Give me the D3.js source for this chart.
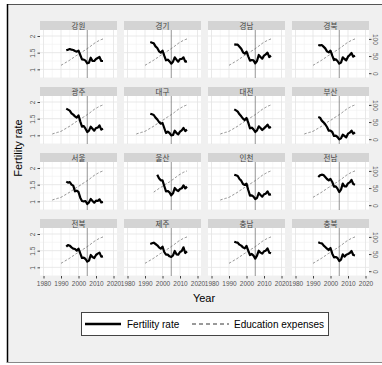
<!DOCTYPE html>
<html>
<head>
<meta charset="utf-8">
<script src="https://cdnjs.cloudflare.com/ajax/libs/d3/7.8.5/d3.min.js"></script>
<style>
  body { margin: 0; background: #fff; }
  text { font-family: "Liberation Sans", Arial, sans-serif; }
</style>
</head>
<body>
<script>
// regions in facet order (4 x 4)
var regions = ["강원", "경기", "경남", "경북",
               "광주", "대구", "대전", "부산",
               "서울", "울산", "인천", "전남",
               "전북", "제주", "충남", "충북"];

// fertility rate, 1993-2014 (울산 from 1997)
var fertStart = { "울산": 1997 };
var fertility = {
  "강원": [1.57,1.59,1.61,1.59,1.58,1.55,1.53,1.56,1.43,1.30,1.29,1.26,1.18,1.20,1.35,1.25,1.25,1.31,1.34,1.37,1.25,1.25],
  "경기": [1.82,1.80,1.78,1.69,1.64,1.54,1.50,1.56,1.41,1.27,1.29,1.24,1.17,1.23,1.36,1.29,1.23,1.31,1.31,1.36,1.23,1.24],
  "경남": [1.75,1.74,1.74,1.68,1.62,1.51,1.47,1.53,1.39,1.26,1.28,1.27,1.18,1.25,1.43,1.37,1.32,1.41,1.45,1.50,1.37,1.41],
  "경북": [1.73,1.72,1.73,1.68,1.63,1.54,1.51,1.56,1.41,1.28,1.30,1.25,1.17,1.20,1.36,1.31,1.27,1.38,1.43,1.49,1.38,1.41],
  "광주": [1.80,1.77,1.74,1.66,1.62,1.57,1.53,1.60,1.42,1.26,1.28,1.20,1.10,1.14,1.26,1.20,1.14,1.22,1.23,1.30,1.17,1.20],
  "대구": [1.65,1.63,1.61,1.53,1.48,1.40,1.35,1.37,1.22,1.07,1.11,1.07,1.00,1.01,1.14,1.07,1.03,1.11,1.15,1.22,1.13,1.17],
  "대전": [1.78,1.75,1.71,1.63,1.57,1.50,1.46,1.52,1.38,1.21,1.23,1.18,1.10,1.15,1.27,1.22,1.16,1.21,1.26,1.32,1.23,1.25],
  "부산": [1.55,1.53,1.44,1.39,1.33,1.25,1.14,1.14,1.10,0.98,0.99,0.95,0.88,0.91,1.02,0.98,0.94,1.05,1.08,1.14,1.05,1.09],
  "서울": [1.59,1.56,1.58,1.50,1.47,1.30,1.32,1.28,1.11,1.01,1.00,1.01,0.92,0.97,1.07,1.01,0.96,1.02,1.01,1.06,0.97,0.98],
  "울산": [1.80,1.69,1.63,1.63,1.46,1.30,1.31,1.27,1.18,1.24,1.40,1.34,1.31,1.37,1.39,1.48,1.39,1.44],
  "인천": [1.80,1.78,1.76,1.67,1.62,1.52,1.49,1.53,1.34,1.17,1.18,1.14,1.07,1.10,1.25,1.19,1.14,1.21,1.23,1.30,1.20,1.21],
  "전남": [1.73,1.78,1.80,1.79,1.73,1.67,1.63,1.67,1.58,1.44,1.45,1.38,1.28,1.35,1.53,1.45,1.45,1.54,1.57,1.64,1.52,1.50],
  "전북": [1.62,1.67,1.65,1.60,1.56,1.55,1.50,1.56,1.42,1.28,1.29,1.25,1.17,1.20,1.37,1.31,1.28,1.37,1.41,1.44,1.32,1.33],
  "제주": [1.70,1.72,1.74,1.70,1.66,1.60,1.56,1.62,1.46,1.38,1.38,1.33,1.31,1.36,1.49,1.39,1.38,1.46,1.49,1.60,1.43,1.48],
  "충남": [1.77,1.75,1.74,1.68,1.65,1.60,1.57,1.64,1.50,1.37,1.40,1.35,1.26,1.35,1.50,1.44,1.41,1.48,1.50,1.57,1.44,1.42],
  "충북": [1.75,1.73,1.72,1.66,1.61,1.56,1.52,1.58,1.41,1.30,1.31,1.28,1.19,1.23,1.39,1.32,1.38,1.40,1.43,1.49,1.37,1.36]
};

// education expenses index, 1985-2014; regions start at different years
var eduYears = d3.range(1985, 2015);
var eduIndex = [15,17,18,20,21,23,26,29,32,35,38,42,45,49,52,55,58,62,65,68,72,75,79,83,87,90,93,96,98,100];
var eduStart = { "광주": 1985, "대구": 1985, "대전": 1985, "부산": 1985, "서울": 1985, "인천": 1985, "울산": 1995 };

var xTicks = [1980, 1990, 2000, 2010, 2020];
var leftTicks = [1, 1.5, 2];
var rightTicks = [0, 50, 100];
var markYear = 2005;

var svgWidth = 382, svgHeight = 365;

var svg = d3.select("body")
  .append("svg")
  .attr("width", svgWidth)
  .attr("height", svgHeight);

// outer frame
svg.append("rect")
  .attr("x", 7).attr("y", 4)
  .attr("width", 380).attr("height", 358)
  .attr("fill", "#f0f0f0");
svg.append("line").attr("x1", 7).attr("x2", 382).attr("y1", 4.5).attr("y2", 4.5)
  .attr("stroke", "#555").attr("stroke-width", 1.2);
svg.append("line").attr("x1", 7.5).attr("x2", 7.5).attr("y1", 4).attr("y2", 363)
  .attr("stroke", "#000").attr("stroke-width", 1.5);
svg.append("line").attr("x1", 7).attr("x2", 382).attr("y1", 362.5).attr("y2", 362.5)
  .attr("stroke", "#888").attr("stroke-width", 1);

var colX = [40, 124, 208, 292];
var rowY = [21, 87, 153, 219];
var panelW = 77, stripH = 9, panelH = 48;

var xScale = d3.scaleLinear().domain([1978, 2022]).range([0, panelW]);
var yLeft = d3.scaleLinear().domain([0.74, 2.18]).range([panelH, 0]);
var yRight = d3.scaleLinear().domain([-14, 126]).range([panelH, 0]);

var fertLine = d3.line()
  .x(function (d) { return xScale(d.year); })
  .y(function (d) { return yLeft(d.value); });
var eduLine = d3.line()
  .x(function (d) { return xScale(d.year); })
  .y(function (d) { return yRight(d.value); });

regions.forEach(function (name, i) {
  var col = i % 4, row = Math.floor(i / 4);
  var g = svg.append("g")
    .attr("transform", "translate(" + colX[col] + "," + rowY[row] + ")");

  // strip
  g.append("rect")
    .attr("width", panelW).attr("height", stripH)
    .attr("fill", "#d4d4d4");
  g.append("text")
    .attr("x", panelW / 2).attr("y", stripH / 2 + 3)
    .attr("text-anchor", "middle")
    .style("font-family", "'Noto Sans CJK KR', sans-serif")
    .style("font-size", "7.5px")
    .attr("fill", "#444")
    .text(name);

  var p = g.append("g").attr("transform", "translate(0," + stripH + ")");
  p.append("rect")
    .attr("width", panelW).attr("height", panelH)
    .attr("fill", "#fff");

  // grid
  [1985, 1995, 2015].forEach(function (v) {
    p.append("line").attr("x1", xScale(v)).attr("x2", xScale(v))
      .attr("y1", 0).attr("y2", panelH).attr("stroke", "#f1f1f1").attr("stroke-width", 0.6);
  });
  [0.75, 1.25, 1.75].forEach(function (v) {
    p.append("line").attr("y1", yLeft(v)).attr("y2", yLeft(v))
      .attr("x1", 0).attr("x2", panelW).attr("stroke", "#f1f1f1").attr("stroke-width", 0.6);
  });
  xTicks.forEach(function (v) {
    p.append("line").attr("x1", xScale(v)).attr("x2", xScale(v))
      .attr("y1", 0).attr("y2", panelH).attr("stroke", "#e3e3e3").attr("stroke-width", 0.8);
  });
  leftTicks.forEach(function (v) {
    p.append("line").attr("y1", yLeft(v)).attr("y2", yLeft(v))
      .attr("x1", 0).attr("x2", panelW).attr("stroke", "#e3e3e3").attr("stroke-width", 0.8);
  });

  // reference year
  p.append("line")
    .attr("x1", xScale(markYear)).attr("x2", xScale(markYear))
    .attr("y1", 0).attr("y2", panelH)
    .attr("stroke", "#7a7a7a").attr("stroke-width", 0.8);

  // education expenses
  var es = eduStart[name] || 1990;
  var eduData = eduYears.map(function (y, k) { return { year: y, value: eduIndex[k] }; })
    .filter(function (d) { return d.year >= es; });
  p.append("path")
    .datum(eduData)
    .attr("d", eduLine)
    .attr("fill", "none")
    .attr("stroke", "#666")
    .attr("stroke-width", 0.7)
    .attr("stroke-dasharray", "2.5,1.8");

  // fertility rate
  var fs = fertStart[name] || 1993;
  var fertData = fertility[name].map(function (v, k) { return { year: fs + k, value: v }; });
  p.append("path")
    .datum(fertData)
    .attr("d", fertLine)
    .attr("fill", "none")
    .attr("stroke", "#000")
    .attr("stroke-width", 2.2)
    .attr("stroke-linejoin", "round");

  // axes
  if (col === 0) {
    var la = p.append("g")
      .call(d3.axisLeft(yLeft).tickValues(leftTicks).tickSize(2.5).tickFormat(d3.format("")));
    la.select(".domain").remove();
    la.selectAll("line").attr("stroke", "#444");
    la.selectAll("text")
      .attr("transform", "rotate(-90)")
      .attr("x", 0)
      .attr("y", -5)
      .attr("dy", 0)
      .attr("text-anchor", "middle")
      .style("font-size", "6.5px")
      .attr("fill", "#555");
  }
  if (col === 3) {
    var ra = p.append("g")
      .attr("transform", "translate(" + panelW + ",0)")
      .call(d3.axisRight(yRight).tickValues(rightTicks).tickSize(2.5));
    ra.select(".domain").remove();
    ra.selectAll("line").attr("stroke", "#444");
    ra.selectAll("text")
      .attr("transform", "rotate(90)")
      .attr("x", 0)
      .attr("y", -4)
      .attr("dy", 0)
      .attr("text-anchor", "middle")
      .style("font-size", "6.5px")
      .attr("fill", "#555");
  }
  if (row === 3) {
    var ba = p.append("g")
      .attr("transform", "translate(0," + panelH + ")")
      .call(d3.axisBottom(xScale).tickValues(xTicks).tickSize(2.5).tickFormat(d3.format("d")));
    ba.select(".domain").remove();
    ba.selectAll("line").attr("stroke", "#444");
    ba.selectAll("text")
      .attr("y", 5)
      .style("font-size", "6.5px")
      .attr("fill", "#555");
  }
});

// axis titles
svg.append("text")
  .attr("transform", "translate(22,148) rotate(-90)")
  .attr("text-anchor", "middle")
  .style("font-size", "11px")
  .text("Fertility rate");

svg.append("text")
  .attr("x", 204).attr("y", 302)
  .attr("text-anchor", "middle")
  .style("font-size", "11px")
  .text("Year");

// legend
var lg = svg.append("g").attr("transform", "translate(81,312)");
lg.append("rect")
  .attr("x", 0.5).attr("y", 0.5)
  .attr("width", 247).attr("height", 23)
  .attr("fill", "#fff").attr("stroke", "#444").attr("stroke-width", 1);
lg.append("line").attr("x1", 4).attr("x2", 40).attr("y1", 12).attr("y2", 12)
  .attr("stroke", "#000").attr("stroke-width", 2.6);
lg.append("text").attr("x", 46).attr("y", 15.5).style("font-size", "10px").text("Fertility rate");
lg.append("line").attr("x1", 111).attr("x2", 148).attr("y1", 12).attr("y2", 12)
  .attr("stroke", "#000").attr("stroke-width", 0.8).attr("stroke-dasharray", "4,3");
lg.append("text").attr("x", 153).attr("y", 15.5).style("font-size", "10px").text("Education expenses");
</script>
</body>
</html>
